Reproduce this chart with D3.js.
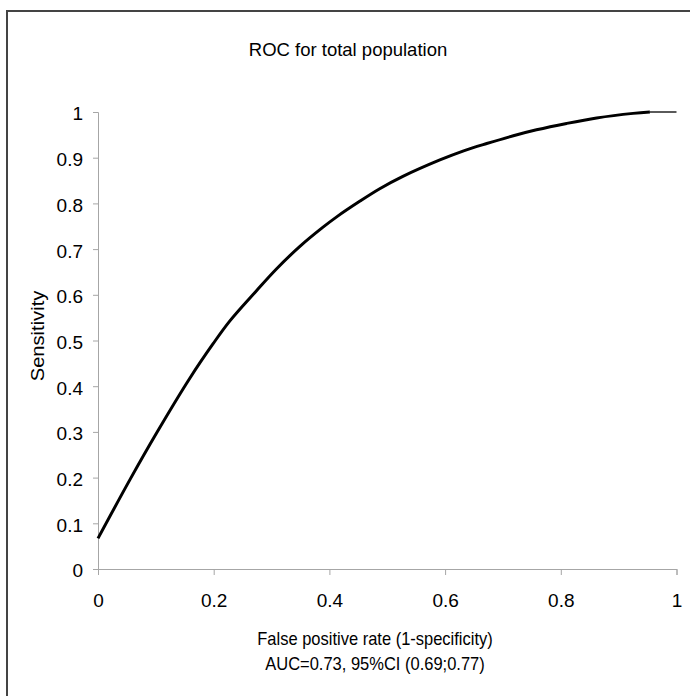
<!DOCTYPE html>
<html><head><meta charset="utf-8">
<script src="https://cdn.jsdelivr.net/npm/d3@7"></script>
<style>body{margin:0;background:#fff}svg{display:block}text{font-family:"Liberation Sans",Arial,sans-serif;fill:#000}</style>
</head><body>
<script>
const fpr = [0, 0.055, 0.101, 0.159, 0.199, 0.228, 0.274, 0.308, 0.349, 0.389, 0.412, 0.453, 0.487, 0.527, 0.591, 0.632, 0.672, 0.718, 0.758, 0.810, 0.862, 0.925, 0.954];
const tpr = [0.067, 0.195, 0.297, 0.418, 0.493, 0.543, 0.609, 0.656, 0.706, 0.748, 0.770, 0.805, 0.832, 0.859, 0.895, 0.915, 0.931, 0.948, 0.961, 0.975, 0.987, 0.997, 1.0];
const tailFpr = [0.954, 1.0];
const tailTpr = [1.0, 1.0];
const xTicks = [0, 0.2, 0.4, 0.6, 0.8, 1];
const yTicks = [0, 0.1, 0.2, 0.3, 0.4, 0.5, 0.6, 0.7, 0.8, 0.9, 1];
const title = "ROC for total population";
const xLabel = "False positive rate (1-specificity)";
const xLabel2 = "AUC=0.73, 95%CI (0.69;0.77)";
const yLabel = "Sensitivity";

const W = 690, H = 696;
const svg = d3.select("body").append("svg").attr("width", W).attr("height", H);
svg.append("rect").attr("x", 7).attr("y", 11).attr("width", 720).attr("height", 720)
  .attr("fill", "none").attr("stroke", "#444").attr("stroke-width", 2);

const x = d3.scaleLinear().domain([0, 1]).range([98, 676.5]);
const y = d3.scaleLinear().domain([0, 1]).range([569, 112]);

const fmt = d => d === 0 ? "0" : d === 1 ? "1" : String(+d.toFixed(1));

const gx = svg.append("g").attr("transform", "translate(0,569)")
  .call(d3.axisBottom(x).tickValues(xTicks).tickFormat(fmt).tickSize(6).tickPadding(19));
const gy = svg.append("g").attr("transform", "translate(98,0)")
  .call(d3.axisLeft(y).tickValues(yTicks).tickFormat(fmt).tickSize(5).tickPadding(10));
[gx, gy].forEach(g => {
  g.select(".domain").attr("stroke", "#a6a6a6").attr("stroke-width", 1);
  g.selectAll(".tick line").attr("stroke", "#a6a6a6").attr("stroke-width", 1);
  g.selectAll(".tick text").attr("font-size", 19).attr("fill", "#000")
   .style("font-family", '"Liberation Sans",Arial,sans-serif');
});
gy.selectAll(".tick text").attr("dy", "0.42em");

const pts = fpr.map((f, i) => [f, tpr[i]]);
const line = d3.line().x(d => x(d[0])).y(d => y(d[1])).curve(d3.curveCatmullRom.alpha(0.5));
svg.append("path").attr("d", line(pts)).attr("fill", "none").attr("stroke", "#000")
  .attr("stroke-width", 3).attr("stroke-linejoin", "round");
svg.append("path").attr("d", d3.line().x(d => x(d[0])).y(d => y(d[1]))(tailFpr.map((f, i) => [f, tailTpr[i]])))
  .attr("fill", "none").attr("stroke", "#000").attr("stroke-width", 1.3);

svg.append("text").attr("x", 348).attr("y", 56).attr("text-anchor", "middle")
  .attr("font-size", 18.5).text(title);
svg.append("text").attr("transform", "translate(375,645) scale(1,1.15)").attr("text-anchor", "middle")
  .attr("font-size", 16.5).text(xLabel);
svg.append("text").attr("transform", "translate(375,670) scale(1,1.15)").attr("text-anchor", "middle")
  .attr("font-size", 16.5).text(xLabel2);
svg.append("text").attr("transform", "translate(44,336) rotate(-90) scale(1.15,1)").attr("text-anchor", "middle")
  .attr("font-size", 17.5).text(yLabel);
</script>
</body></html>
